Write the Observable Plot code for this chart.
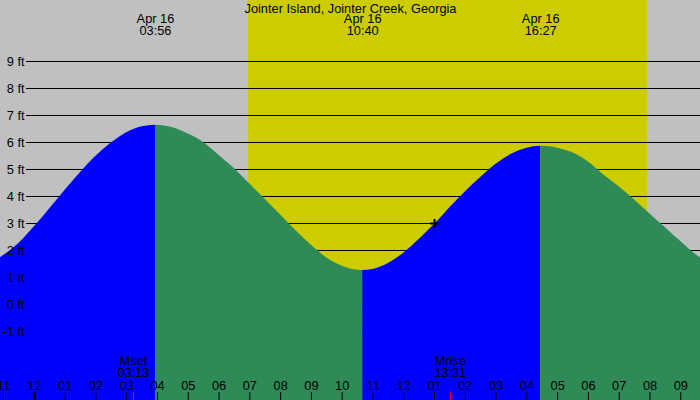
<!DOCTYPE html>
<html><head><meta charset="utf-8">
<script src="https://cdn.jsdelivr.net/npm/d3@7"></script>
<script src="https://cdn.jsdelivr.net/npm/@observablehq/plot@0.6"></script>
<style>html,body{margin:0;padding:0;background:#c0c0c0;} svg{display:block}</style>
</head><body><div id="chart"></div>
<script>
// ---- data ----
const title = "Jointer Island, Jointer Creek, Georgia";
const tideTimes = [
  "2024-04-15T22:53","2024-04-15T23:30","2024-04-16T00:00","2024-04-16T00:30","2024-04-16T01:00",
  "2024-04-16T01:30","2024-04-16T02:00","2024-04-16T02:30","2024-04-16T03:00","2024-04-16T03:30",
  "2024-04-16T03:56","2024-04-16T04:30","2024-04-16T05:00","2024-04-16T05:30","2024-04-16T06:00",
  "2024-04-16T06:30","2024-04-16T07:00","2024-04-16T07:30","2024-04-16T08:00","2024-04-16T08:30",
  "2024-04-16T09:00","2024-04-16T09:30","2024-04-16T10:00","2024-04-16T10:20","2024-04-16T10:40",
  "2024-04-16T11:00","2024-04-16T11:30","2024-04-16T12:00","2024-04-16T12:30","2024-04-16T13:00",
  "2024-04-16T13:30","2024-04-16T14:00","2024-04-16T14:30","2024-04-16T15:00","2024-04-16T15:30",
  "2024-04-16T16:00","2024-04-16T16:27","2024-04-16T17:00","2024-04-16T17:30","2024-04-16T18:00",
  "2024-04-16T18:30","2024-04-16T19:00","2024-04-16T19:30","2024-04-16T20:00","2024-04-16T20:30",
  "2024-04-16T21:00","2024-04-16T21:30","2024-04-16T21:39"
];
const tideHeights = [
  1.72, 2.27, 2.88, 3.55, 4.23,
  4.89, 5.49, 5.98, 6.36, 6.58,
  6.64, 6.55, 6.31, 6.00, 5.52,
  5.03, 4.46, 3.89, 3.31, 2.73,
  2.19, 1.72, 1.42, 1.30, 1.26,
  1.30, 1.52, 1.90, 2.41, 2.96,
  3.58, 4.17, 4.70, 5.19, 5.56,
  5.79, 5.86, 5.79, 5.61, 5.28,
  4.80, 4.36, 3.87, 3.35, 2.84,
  2.33, 1.84, 1.72
];
const extremeTimes = ["2024-04-16T03:56","2024-04-16T10:40","2024-04-16T16:27"];
const extremeDates = ["Apr 16","Apr 16","Apr 16"];
const extremeLabels = ["03:56","10:40","16:27"];
const moonTimes = ["2024-04-16T03:13","2024-04-16T13:31"];
const moonNames = ["Mset","Mrise"];
const moonLabels = ["03:13","13:31"];
const sunTimes = ["2024-04-16T06:57","2024-04-16T19:55"];
const nowTime = "2024-04-16T13:00";
const nowHeight = 3.0;
const yTicks = [-1,0,1,2,3,4,5,6,7,8,9];
const xDomain = ["2024-04-15T22:53:55","2024-04-16T21:38:28"];
const yDomain = [-3.556, 11.259];

// ---- build ----
const D = s => new Date(s + (s.length === 16 ? ":00Z" : "Z"));
const pts = tideTimes.map((t, i) => ({time: D(t), h: tideHeights[i]}));
const ext = extremeTimes.map(D);
const bounds = [pts[0].time, ...ext, pts[pts.length - 1].time];
const segs = [];
for (let i = 0; i < bounds.length - 1; i++) {
  const a = bounds[i], b = bounds[i + 1];
  const rows = pts.filter(p => p.time >= a && p.time <= b);
  segs.push({rows, rising: rows[rows.length - 1].h > rows[0].h});
}
const xd = xDomain.map(D);
const hours = d3.utcHours(xd[0], xd[1]);
const midnights = hours.filter(h => h.getUTCHours() === 0);
const extremes = extremeTimes.map((t, i) => ({time: D(t), text: extremeDates[i] + "\n" + extremeLabels[i]}));
const moons = moonTimes.map((t, i) => ({time: D(t), text: moonNames[i] + "\n" + moonLabels[i]}));
const fmtH = d3.utcFormat("%I");
const plusSym = {draw(ctx, size) { const r = Math.sqrt(size / Math.PI); ctx.moveTo(-r, 0); ctx.lineTo(r, 0); ctx.moveTo(0, -r); ctx.lineTo(0, r); }};

const chart = Plot.plot({
  width: 700, height: 400,
  margin: 0,
  x: {type: "utc", domain: xd, axis: null},
  y: {domain: yDomain, axis: null},
  style: {background: "#c0c0c0", fontFamily: "'Liberation Sans', Arial, sans-serif", fontSize: "12.8px", color: "black"},
  marks: [
    Plot.rect([{a: D(sunTimes[0]), b: D(sunTimes[1])}], {x1: "a", x2: "b", fill: "#cccc00"}),
    Plot.ruleY(yTicks, {y: d => d, insetLeft: 26, stroke: "black", strokeWidth: 1}),
    ...segs.map(s => Plot.areaY(s.rows, {x: "time", y1: yDomain[0], y2: "h", curve: "monotone-x",
      fill: s.rising ? "#0000ff" : "#2e8b57"})),
    Plot.text(yTicks, {y: d => d, text: d => `${d} ft`, frameAnchor: "left", dx: 24, textAnchor: "end", lineAnchor: "middle", fill: "black"}),
    Plot.text([title], {text: d => d, frameAnchor: "top", dy: 8, lineAnchor: "middle", fill: "black"}),
    Plot.text(extremes, {x: "time", text: "text", frameAnchor: "top", dy: 25, lineAnchor: "middle", lineHeight: 0.94, fill: "black"}),
    Plot.text(moons, {x: "time", text: "text", frameAnchor: "bottom", dy: -33, lineAnchor: "middle", lineHeight: 0.94, fill: "black"}),
    Plot.text(hours, {x: d => d, text: d => fmtH(d), frameAnchor: "bottom", dy: -15, lineAnchor: "middle", fill: "black"}),
    Plot.ruleX(hours, {x: d => d, insetTop: 392, stroke: "black", strokeWidth: 1}),
    Plot.ruleX(midnights, {x: d => d, insetTop: 392, stroke: "black", strokeWidth: 3}),
    Plot.ruleX(moonTimes.map(D), {x: d => d, insetTop: 392, stroke: "#ff0000", strokeWidth: 1}),
    Plot.dot([{time: D(nowTime), h: nowHeight}], {x: "time", y: "h", symbol: plusSym, r: 4.5, fill: "none", stroke: "black", strokeWidth: 2})
  ]
});
document.getElementById("chart").appendChild(chart);
</script>
</body></html>
